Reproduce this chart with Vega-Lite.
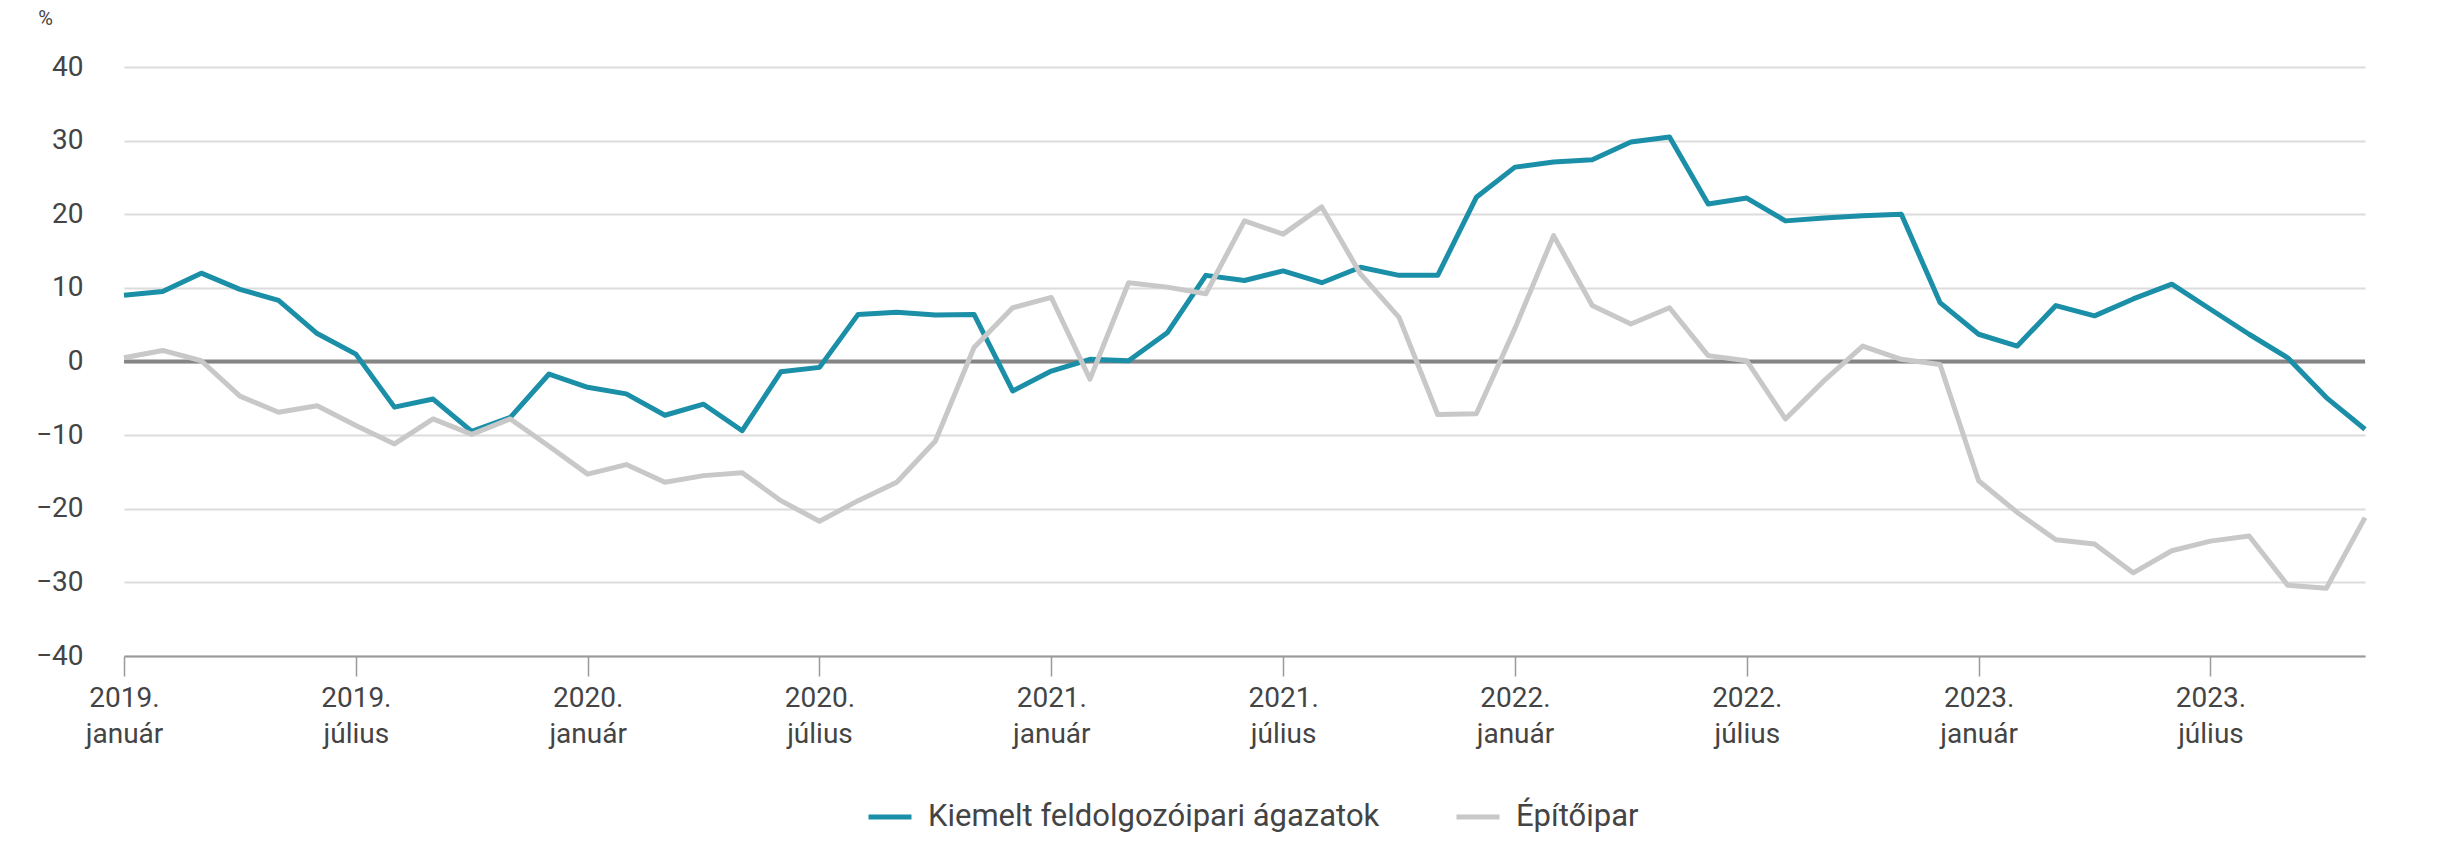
{
  "$schema": "https://vega.github.io/schema/vega-lite/v6.json",
  "autosize": {"type": "none"},
  "width": 2241,
  "height": 589,
  "padding": {"left": 124, "top": 67, "right": 94, "bottom": 193},
  "background": "white",
  "config": {
    "font": "Roboto",
    "view": {"stroke": null},
    "axis": {"labelColor": "#444444", "labelFont": "Roboto", "titleFont": "Roboto"}
  },
  "datasets": {
    "main": [
      {"month":"2019-01","series":"Kiemelt feldolgozóipari ágazatok","value":9.0},
      {"month":"2019-02","series":"Kiemelt feldolgozóipari ágazatok","value":9.5},
      {"month":"2019-03","series":"Kiemelt feldolgozóipari ágazatok","value":12.0},
      {"month":"2019-04","series":"Kiemelt feldolgozóipari ágazatok","value":9.8},
      {"month":"2019-05","series":"Kiemelt feldolgozóipari ágazatok","value":8.3},
      {"month":"2019-06","series":"Kiemelt feldolgozóipari ágazatok","value":3.8},
      {"month":"2019-07","series":"Kiemelt feldolgozóipari ágazatok","value":1.0},
      {"month":"2019-08","series":"Kiemelt feldolgozóipari ágazatok","value":-6.2},
      {"month":"2019-09","series":"Kiemelt feldolgozóipari ágazatok","value":-5.1},
      {"month":"2019-10","series":"Kiemelt feldolgozóipari ágazatok","value":-9.5},
      {"month":"2019-11","series":"Kiemelt feldolgozóipari ágazatok","value":-7.6},
      {"month":"2019-12","series":"Kiemelt feldolgozóipari ágazatok","value":-1.7},
      {"month":"2020-01","series":"Kiemelt feldolgozóipari ágazatok","value":-3.5},
      {"month":"2020-02","series":"Kiemelt feldolgozóipari ágazatok","value":-4.4},
      {"month":"2020-03","series":"Kiemelt feldolgozóipari ágazatok","value":-7.3},
      {"month":"2020-04","series":"Kiemelt feldolgozóipari ágazatok","value":-5.8},
      {"month":"2020-05","series":"Kiemelt feldolgozóipari ágazatok","value":-9.4},
      {"month":"2020-06","series":"Kiemelt feldolgozóipari ágazatok","value":-1.4},
      {"month":"2020-07","series":"Kiemelt feldolgozóipari ágazatok","value":-0.8},
      {"month":"2020-08","series":"Kiemelt feldolgozóipari ágazatok","value":6.4},
      {"month":"2020-09","series":"Kiemelt feldolgozóipari ágazatok","value":6.7},
      {"month":"2020-10","series":"Kiemelt feldolgozóipari ágazatok","value":6.3},
      {"month":"2020-11","series":"Kiemelt feldolgozóipari ágazatok","value":6.4},
      {"month":"2020-12","series":"Kiemelt feldolgozóipari ágazatok","value":-4.0},
      {"month":"2021-01","series":"Kiemelt feldolgozóipari ágazatok","value":-1.3},
      {"month":"2021-02","series":"Kiemelt feldolgozóipari ágazatok","value":0.3},
      {"month":"2021-03","series":"Kiemelt feldolgozóipari ágazatok","value":0.1},
      {"month":"2021-04","series":"Kiemelt feldolgozóipari ágazatok","value":3.9},
      {"month":"2021-05","series":"Kiemelt feldolgozóipari ágazatok","value":11.7},
      {"month":"2021-06","series":"Kiemelt feldolgozóipari ágazatok","value":11.0},
      {"month":"2021-07","series":"Kiemelt feldolgozóipari ágazatok","value":12.3},
      {"month":"2021-08","series":"Kiemelt feldolgozóipari ágazatok","value":10.7},
      {"month":"2021-09","series":"Kiemelt feldolgozóipari ágazatok","value":12.8},
      {"month":"2021-10","series":"Kiemelt feldolgozóipari ágazatok","value":11.7},
      {"month":"2021-11","series":"Kiemelt feldolgozóipari ágazatok","value":11.7},
      {"month":"2021-12","series":"Kiemelt feldolgozóipari ágazatok","value":22.3},
      {"month":"2022-01","series":"Kiemelt feldolgozóipari ágazatok","value":26.4},
      {"month":"2022-02","series":"Kiemelt feldolgozóipari ágazatok","value":27.1},
      {"month":"2022-03","series":"Kiemelt feldolgozóipari ágazatok","value":27.4},
      {"month":"2022-04","series":"Kiemelt feldolgozóipari ágazatok","value":29.8},
      {"month":"2022-05","series":"Kiemelt feldolgozóipari ágazatok","value":30.5},
      {"month":"2022-06","series":"Kiemelt feldolgozóipari ágazatok","value":21.4},
      {"month":"2022-07","series":"Kiemelt feldolgozóipari ágazatok","value":22.2},
      {"month":"2022-08","series":"Kiemelt feldolgozóipari ágazatok","value":19.1},
      {"month":"2022-09","series":"Kiemelt feldolgozóipari ágazatok","value":19.5},
      {"month":"2022-10","series":"Kiemelt feldolgozóipari ágazatok","value":19.8},
      {"month":"2022-11","series":"Kiemelt feldolgozóipari ágazatok","value":20.0},
      {"month":"2022-12","series":"Kiemelt feldolgozóipari ágazatok","value":8.0},
      {"month":"2023-01","series":"Kiemelt feldolgozóipari ágazatok","value":3.7},
      {"month":"2023-02","series":"Kiemelt feldolgozóipari ágazatok","value":2.1},
      {"month":"2023-03","series":"Kiemelt feldolgozóipari ágazatok","value":7.6},
      {"month":"2023-04","series":"Kiemelt feldolgozóipari ágazatok","value":6.2},
      {"month":"2023-05","series":"Kiemelt feldolgozóipari ágazatok","value":8.5},
      {"month":"2023-06","series":"Kiemelt feldolgozóipari ágazatok","value":10.5},
      {"month":"2023-07","series":"Kiemelt feldolgozóipari ágazatok","value":7.1},
      {"month":"2023-08","series":"Kiemelt feldolgozóipari ágazatok","value":3.7},
      {"month":"2023-09","series":"Kiemelt feldolgozóipari ágazatok","value":0.5},
      {"month":"2023-10","series":"Kiemelt feldolgozóipari ágazatok","value":-4.9},
      {"month":"2023-11","series":"Kiemelt feldolgozóipari ágazatok","value":-9.2},
      {"month":"2019-01","series":"Építőipar","value":0.5},
      {"month":"2019-02","series":"Építőipar","value":1.5},
      {"month":"2019-03","series":"Építőipar","value":0.1},
      {"month":"2019-04","series":"Építőipar","value":-4.7},
      {"month":"2019-05","series":"Építőipar","value":-6.9},
      {"month":"2019-06","series":"Építőipar","value":-6.0},
      {"month":"2019-07","series":"Építőipar","value":-8.7},
      {"month":"2019-08","series":"Építőipar","value":-11.2},
      {"month":"2019-09","series":"Építőipar","value":-7.8},
      {"month":"2019-10","series":"Építőipar","value":-9.9},
      {"month":"2019-11","series":"Építőipar","value":-7.8},
      {"month":"2019-12","series":"Építőipar","value":-11.5},
      {"month":"2020-01","series":"Építőipar","value":-15.3},
      {"month":"2020-02","series":"Építőipar","value":-14.0},
      {"month":"2020-03","series":"Építőipar","value":-16.4},
      {"month":"2020-04","series":"Építőipar","value":-15.5},
      {"month":"2020-05","series":"Építőipar","value":-15.1},
      {"month":"2020-06","series":"Építőipar","value":-18.9},
      {"month":"2020-07","series":"Építőipar","value":-21.7},
      {"month":"2020-08","series":"Építőipar","value":-18.9},
      {"month":"2020-09","series":"Építőipar","value":-16.4},
      {"month":"2020-10","series":"Építőipar","value":-10.8},
      {"month":"2020-11","series":"Építőipar","value":1.9},
      {"month":"2020-12","series":"Építőipar","value":7.3},
      {"month":"2021-01","series":"Építőipar","value":8.7},
      {"month":"2021-02","series":"Építőipar","value":-2.4},
      {"month":"2021-03","series":"Építőipar","value":10.7},
      {"month":"2021-04","series":"Építőipar","value":10.1},
      {"month":"2021-05","series":"Építőipar","value":9.2},
      {"month":"2021-06","series":"Építőipar","value":19.1},
      {"month":"2021-07","series":"Építőipar","value":17.3},
      {"month":"2021-08","series":"Építőipar","value":21.0},
      {"month":"2021-09","series":"Építőipar","value":11.9},
      {"month":"2021-10","series":"Építőipar","value":6.0},
      {"month":"2021-11","series":"Építőipar","value":-7.2},
      {"month":"2021-12","series":"Építőipar","value":-7.1},
      {"month":"2022-01","series":"Építőipar","value":4.5},
      {"month":"2022-02","series":"Építőipar","value":17.1},
      {"month":"2022-03","series":"Építőipar","value":7.6},
      {"month":"2022-04","series":"Építőipar","value":5.1},
      {"month":"2022-05","series":"Építőipar","value":7.3},
      {"month":"2022-06","series":"Építőipar","value":0.8},
      {"month":"2022-07","series":"Építőipar","value":0.1},
      {"month":"2022-08","series":"Építőipar","value":-7.8},
      {"month":"2022-09","series":"Építőipar","value":-2.6},
      {"month":"2022-10","series":"Építőipar","value":2.1},
      {"month":"2022-11","series":"Építőipar","value":0.3},
      {"month":"2022-12","series":"Építőipar","value":-0.4},
      {"month":"2023-01","series":"Építőipar","value":-16.2},
      {"month":"2023-02","series":"Építőipar","value":-20.5},
      {"month":"2023-03","series":"Építőipar","value":-24.2},
      {"month":"2023-04","series":"Építőipar","value":-24.8},
      {"month":"2023-05","series":"Építőipar","value":-28.7},
      {"month":"2023-06","series":"Építőipar","value":-25.7},
      {"month":"2023-07","series":"Építőipar","value":-24.4},
      {"month":"2023-08","series":"Építőipar","value":-23.7},
      {"month":"2023-09","series":"Építőipar","value":-30.4},
      {"month":"2023-10","series":"Építőipar","value":-30.8},
      {"month":"2023-11","series":"Építőipar","value":-21.2}
    ],
    "zero": [{"z": 0}]
  },
  "layer": [
    {
      "data": {"name": "zero"},
      "mark": {"type": "rule", "color": "#858585", "strokeWidth": 4},
      "encoding": {
        "y": {"field": "z", "type": "quantitative", "scale": {"domain": [-40, 40], "nice": false}}
      }
    },
    {
      "data": {"name": "main"},
      "mark": {"type": "line", "strokeWidth": 5, "strokeJoin": "round"},
      "encoding": {
        "x": {
          "field": "month",
          "type": "ordinal",
          "scale": {"type": "point", "padding": 0},
          "axis": {
            "title": null,
            "values": ["2019-01","2019-07","2020-01","2020-07","2021-01","2021-07","2022-01","2022-07","2023-01","2023-07"],
            "labelExpr": "[slice(datum.value,0,4) + '.', slice(datum.value,5,7) == '01' ? 'január' : 'július']",
            "labelAngle": 0,
            "labelFontSize": 28,
            "labelLineHeight": 36,
            "labelBaseline": "top",
            "labelPadding": 8,
            "domainColor": "#9a9a9a",
            "domainWidth": 2,
            "tickColor": "#9a9a9a",
            "tickWidth": 1.5,
            "tickSize": 20,
            "grid": false
          }
        },
        "y": {
          "field": "value",
          "type": "quantitative",
          "scale": {"domain": [-40, 40], "nice": false},
          "axis": {
            "title": "%",
            "titleAngle": 0,
            "titleX": -79,
            "titleY": -49,
            "titleAlign": "center",
            "titleBaseline": "middle",
            "titleFontSize": 20,
            "titleFontWeight": "normal",
            "titleColor": "#444444",
            "values": [-40, -30, -20, -10, 0, 10, 20, 30, 40],
            "labelFontSize": 28,
            "labelPadding": 41,
            "domain": false,
            "ticks": false,
            "tickSize": 0,
            "gridColor": "#dcdcdc",
            "gridWidth": 2
          }
        },
        "color": {
          "field": "series",
          "type": "nominal",
          "scale": {"domain": ["Kiemelt feldolgozóipari ágazatok", "Építőipar"], "range": ["#1a8fa7", "#c8c8c8"]},
          "legend": {
            "title": null,
            "orient": "none",
            "legendX": 742,
            "legendY": 726,
            "direction": "horizontal",
            "symbolType": "stroke",
            "symbolStrokeWidth": 5,
            "symbolSize": 1849,
            "labelFontSize": 31,
            "labelLimit": 0,
            "labelColor": "#444444",
            "labelOffset": 14,
            "columnPadding": 66
          }
        }
      }
    }
  ]
}
